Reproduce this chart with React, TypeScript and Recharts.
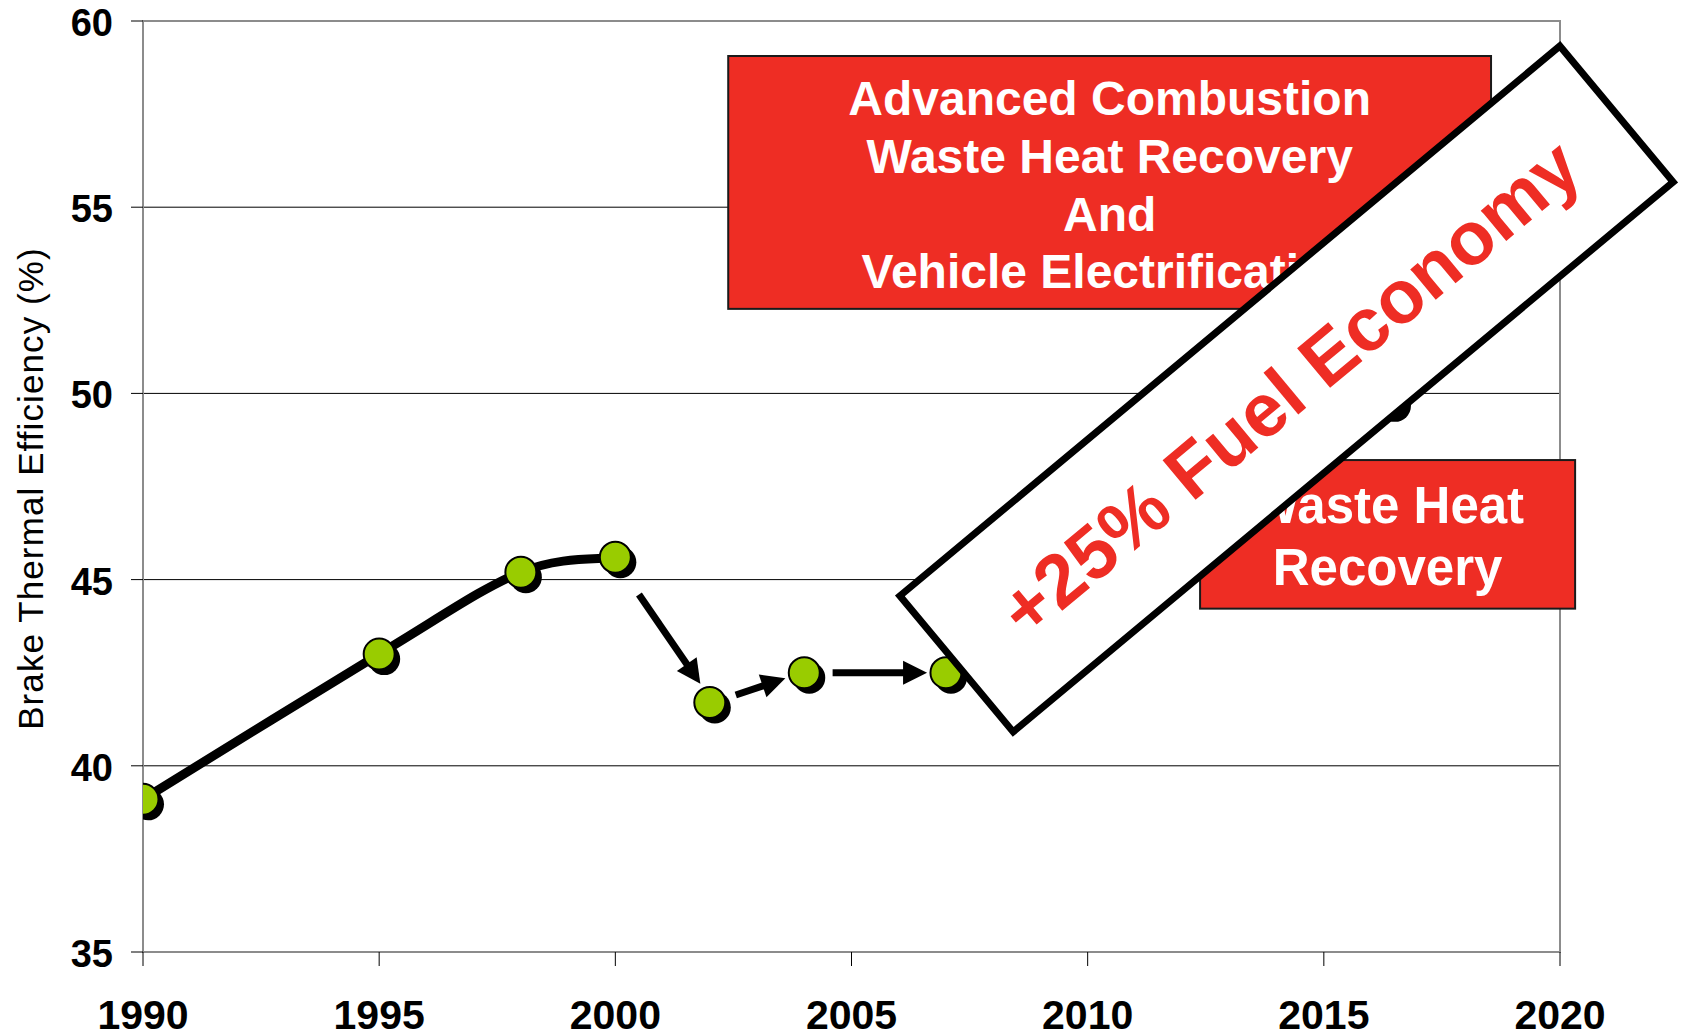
import React from 'react';
import {
  LineChart,
  Line,
  XAxis,
  YAxis,
  CartesianGrid,
  ReferenceArea,
  ReferenceLine,
  ReferenceDot
} from 'recharts';

// smoothed history line
const curveYears = [1990, 1995, 1998, 2000];
const curveEfficiency = [39.1, 43.0, 45.2, 45.6];

// green markers (last one sits under the banner)
const markerYears = [1990, 1995, 1998, 2000, 2002, 2004, 2007, 2016.4];
const markerEfficiency = [39.1, 43.0, 45.2, 45.6, 41.7, 42.5, 42.5, 49.8];

// arrows between the later markers
const arrowFromYears = [2000.5, 2002.55, 2004.6];
const arrowFromEfficiency = [44.6, 41.9, 42.5];
const arrowToYears = [2001.8, 2003.6, 2006.6];
const arrowToEfficiency = [42.2, 42.35, 42.5];

const yearTicks = [1990, 1995, 2000, 2005, 2010, 2015, 2020];
const efficiencyTicks = [35, 40, 45, 50, 55, 60];
const minorEfficiencyTicks = [
  36, 37, 38, 39, 41, 42, 43, 44, 46, 47, 48, 49, 51, 52, 53, 54, 56, 57, 58, 59, 60
];

const upperBoxLines = ['Advanced Combustion', 'Waste Heat Recovery', 'And', 'Vehicle Electrification'];
const upperBoxYears = [2002.39, 2018.54];
const upperBoxEfficiency = [52.27, 59.06];

const lowerBoxLines = ['Waste Heat', 'Recovery'];
const lowerBoxYears = [2012.38, 2020.32];
const lowerBoxEfficiency = [44.22, 48.21];

const bannerText = '+25% Fuel Economy';
const bannerYear = 2014.21;
const bannerEfficiency = 50.12;

const FONT = '"Liberation Sans", Arial, Helvetica, sans-serif';
const RED = '#EE2D24';
const GREEN = '#99CC00';
const GREY = '#8C8C8C';

const curveData = curveYears.map((year, i) => ({ year, efficiency: curveEfficiency[i] }));
const markerData = markerYears.map((year, i) => ({ year, efficiency: markerEfficiency[i] }));

// spreadsheet-style smoothing (bezier, 1/6 tension)
const smoothCurve: any = (context: any) => {
  let pts: number[][] = [];
  return {
    areaStart() {},
    areaEnd() {},
    lineStart() {
      pts = [];
    },
    point(x: number, y: number) {
      pts.push([+x, +y]);
    },
    lineEnd() {
      const n = pts.length;
      if (!n) return;
      context.moveTo(pts[0][0], pts[0][1]);
      for (let i = 0; i < n - 1; i++) {
        const p0 = pts[Math.max(i - 1, 0)];
        const p1 = pts[i];
        const p2 = pts[i + 1];
        const p3 = pts[Math.min(i + 2, n - 1)];
        context.bezierCurveTo(
          p1[0] + (p2[0] - p0[0]) / 6,
          p1[1] + (p2[1] - p0[1]) / 6,
          p2[0] - (p3[0] - p1[0]) / 6,
          p2[1] - (p3[1] - p1[1]) / 6,
          p2[0],
          p2[1]
        );
      }
    }
  };
};

function Marker(props: any) {
  const { cx, cy, index } = props;
  if (cx == null || cy == null) return <g key={`m-${index}`} />;
  return (
    <g key={`m-${index}`}>
      <circle cx={cx + 5} cy={cy + 5} r={16} fill="#000" />
      <circle cx={cx} cy={cy} r={15.5} fill={GREEN} stroke="#000" strokeWidth={2} />
    </g>
  );
}

function Arrow(props: any) {
  const { x1, y1, x2, y2 } = props;
  const dx = x2 - x1;
  const dy = y2 - y1;
  const len = Math.hypot(dx, dy) || 1;
  const ux = dx / len;
  const uy = dy / len;
  const head = 24;
  const half = 12;
  const bx = x2 - ux * head;
  const by = y2 - uy * head;
  return (
    <g>
      <line x1={x1} y1={y1} x2={bx + ux * 2} y2={by + uy * 2} stroke="#000" strokeWidth={7} />
      <polygon
        points={`${x2},${y2} ${bx - uy * half},${by + ux * half} ${bx + uy * half},${by - ux * half}`}
        fill="#000"
      />
    </g>
  );
}

function TextBox(props: any) {
  const { x, y, width, height, lines, fontSize, firstBaseline, lineGap } = props;
  const cx = x + width / 2;
  return (
    <g>
      <rect x={x} y={y} width={width} height={height} fill={RED} stroke="#1a1a1a" strokeWidth={2} />
      <text textAnchor="middle" fill="#fff" fontWeight="bold" fontSize={fontSize} fontFamily={FONT}>
        {lines.map((line: string, i: number) => (
          <tspan key={i} x={cx} y={y + firstBaseline + i * lineGap}>
            {line}
          </tspan>
        ))}
      </text>
    </g>
  );
}

function Banner(props: any) {
  const { cx, cy } = props;
  if (cx == null || cy == null) return <g />;
  return (
    <g transform={`translate(${cx},${cy}) rotate(-39.8)`}>
      <rect x={-429.5} y={-88.5} width={859} height={177} fill="#fff" stroke="#000" strokeWidth={7} />
      <text
        x={3}
        y={27}
        textAnchor="middle"
        fill={RED}
        fontWeight="bold"
        fontSize={75}
        fontFamily={FONT}
      >
        {bannerText}
      </text>
    </g>
  );
}

function YearTick(props: any) {
  const { x, y, payload } = props;
  return (
    <text x={x} y={y + 61} textAnchor="middle" fontSize={41} fontWeight="bold" fontFamily={FONT} fill="#000">
      {payload.value}
    </text>
  );
}

function EfficiencyTick(props: any) {
  const { x, y, payload } = props;
  return (
    <text x={x - 16} y={y + 15} textAnchor="end" fontSize={38} fontWeight="bold" fontFamily={FONT} fill="#000">
      {payload.value}
    </text>
  );
}

function YTitle(props: any) {
  const vb = props.viewBox || { x: 0, y: 21, width: 143, height: 931 };
  return (
    <text
      transform={`translate(${vb.x + 43},${vb.y + vb.height / 2 + 2}) rotate(-90)`}
      textAnchor="middle"
      fontSize={35}
      fontFamily={FONT}
      letterSpacing={1.1}
      fill="#000"
    >
      Brake Thermal Efficiency (%)
    </text>
  );
}

export default function App() {
  return (
    <div style={{ position: 'absolute', left: 0, top: 0, width: 1689, height: 1035, background: '#fff' }}>
      <LineChart width={1689} height={1035} margin={{ top: 21, right: 129, bottom: 0, left: 0 }}>
        <CartesianGrid vertical={false} stroke="#000" strokeWidth={1} />
        <XAxis
          dataKey="year"
          type="number"
          domain={[1990, 2020]}
          ticks={yearTicks}
          allowDataOverflow
          height={83}
          tickSize={14}
          tickLine={{ stroke: '#000', strokeWidth: 1 }}
          axisLine={{ stroke: GREY, strokeWidth: 2 }}
          tick={<YearTick />}
        />
        <YAxis
          type="number"
          domain={[35, 60]}
          ticks={efficiencyTicks}
          allowDataOverflow
          width={143}
          tickSize={12}
          tickLine={{ stroke: '#000', strokeWidth: 1 }}
          axisLine={{ stroke: GREY, strokeWidth: 2 }}
          tick={<EfficiencyTick />}
          label={<YTitle />}
        />
        <YAxis
          yAxisId="minor"
          type="number"
          domain={[35, 60]}
          ticks={minorEfficiencyTicks}
          mirror
          width={0}
          tickSize={9}
          tick={false}
          axisLine={false}
          tickLine={{ stroke: '#000', strokeWidth: 1 }}
        />
        <ReferenceArea
          x1={1990}
          x2={2020}
          y1={35}
          y2={60}
          fill="none"
          stroke={GREY}
          strokeWidth={2}
          ifOverflow="visible"
        />
        <Line
          data={curveData}
          dataKey="efficiency"
          type={smoothCurve}
          stroke="#000"
          strokeWidth={9}
          strokeLinecap="round"
          dot={false}
          activeDot={false}
          isAnimationActive={false}
        />
        <Line
          data={markerData}
          dataKey="efficiency"
          stroke="none"
          strokeWidth={0}
          dot={Marker}
          activeDot={false}
          isAnimationActive={false}
        />
        {arrowFromYears.map((year, i) => (
          <ReferenceLine
            key={`arrow-${i}`}
            segment={[
              { x: year, y: arrowFromEfficiency[i] },
              { x: arrowToYears[i], y: arrowToEfficiency[i] }
            ]}
            ifOverflow="visible"
            shape={(p: any) => <Arrow {...p} />}
            zIndex={700}
          />
        ))}
        <ReferenceArea
          x1={upperBoxYears[0]}
          x2={upperBoxYears[1]}
          y1={upperBoxEfficiency[0]}
          y2={upperBoxEfficiency[1]}
          ifOverflow="visible"
          zIndex={1500}
          shape={(p: any) => (
            <TextBox {...p} lines={upperBoxLines} fontSize={48} firstBaseline={59} lineGap={57.8} />
          )}
        />
        <ReferenceArea
          x1={lowerBoxYears[0]}
          x2={lowerBoxYears[1]}
          y1={lowerBoxEfficiency[0]}
          y2={lowerBoxEfficiency[1]}
          ifOverflow="visible"
          zIndex={1500}
          shape={(p: any) => (
            <TextBox {...p} lines={lowerBoxLines} fontSize={51} firstBaseline={62.5} lineGap={62.5} />
          )}
        />
        <ReferenceDot
          x={bannerYear}
          y={bannerEfficiency}
          r={1}
          ifOverflow="visible"
          zIndex={1600}
          shape={(p: any) => <Banner {...p} />}
        />
      </LineChart>
    </div>
  );
}
